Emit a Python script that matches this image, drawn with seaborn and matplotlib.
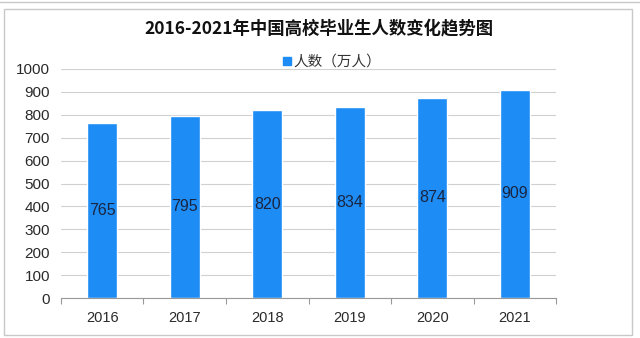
import matplotlib
matplotlib.use("Agg")
import matplotlib.pyplot as plt
import seaborn as sns
import pandas as pd
from matplotlib.patches import Rectangle
from matplotlib.lines import Line2D

years = ["2016", "2017", "2018", "2019", "2020", "2021"]
values = [765, 795, 820, 834, 874, 909]
yticks = [0, 100, 200, 300, 400, 500, 600, 700, 800, 900, 1000]
title = "2016-2021年中国高校毕业生人数变化趋势图"
series_name = "人数（万人）"

sns.set_theme(style="white")
plt.rcParams['font.family'] = ['Noto Sans CJK SC', 'DejaVu Sans']

df = pd.DataFrame({"year": years, "value": values})
bar_color = "#1E8CF5"
sans = ['Liberation Sans', 'DejaVu Sans']

fig = plt.figure(figsize=(6.4, 3.38), dpi=100)
ax = fig.add_axes([0.0953, 0.1183, 0.7735, 0.6776])
sns.barplot(data=df, x="year", y="value", color=bar_color, width=0.36,
            saturation=1, ax=ax)
ax.set_ylim(0, 1000)
ax.set_xlim(-0.5, len(years) - 0.5)
ax.set_yticks(yticks)
ax.set_yticklabels([str(t) for t in yticks], fontsize=11, color="#2a2a2a", family=sans)
ax.set_xticks(range(len(years)))
ax.set_xticklabels(years, fontsize=10.5, color="#2a2a2a", family=sans)
ax.tick_params(axis="x", length=0, pad=9)
ax.tick_params(axis="y", length=0, pad=8)
ax.set_xticks([i - 0.5 for i in range(len(years) + 1)], minor=True)
ax.tick_params(axis="x", which="minor", length=4, color="#999999", width=0.8,
               direction="out", bottom=True)
ax.set_xlabel("")
ax.set_ylabel("")
ax.yaxis.grid(True, color="#d0d0d0", linewidth=0.8)
ax.set_axisbelow(True)
for s in ["top", "right", "left"]:
    ax.spines[s].set_visible(False)
ax.spines["bottom"].set_color("#999999")
ax.spines["bottom"].set_linewidth(0.8)

for c in ax.containers:
    ax.bar_label(c, labels=[str(v) for v in values], label_type="center",
                 fontsize=11.5, color="#1a2540", family=sans)

fig.text(0.499, 0.915, title, ha="center", va="center", fontsize=12.5,
         fontweight="bold", color="#111111")
handle = Line2D([], [], marker="s", color=bar_color, linestyle="none", markersize=5.5)
fig.legend([handle], [series_name], loc="center", bbox_to_anchor=(0.518, 0.817),
           frameon=False, fontsize=10.5, handletextpad=0.05, borderaxespad=0,
           handlelength=0.8, labelcolor="#333333")

fig.patches.append(Rectangle((0.006, 0.008), 0.982, 0.965, transform=fig.transFigure,
                             fill=False, edgecolor="#c8c8c8", linewidth=1.0))
fig.add_artist(Line2D([0, 1], [0.993, 0.993], transform=fig.transFigure,
                      color="#c8c8c8", linewidth=1.0))

fig.savefig("out.png", dpi=100)
